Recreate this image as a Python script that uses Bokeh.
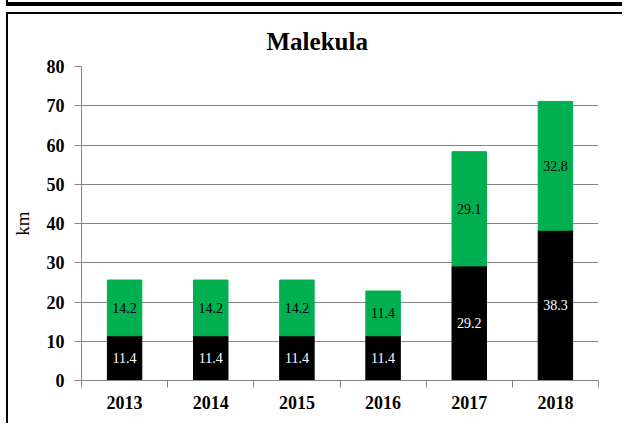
from bokeh.plotting import figure
from bokeh.models import ColumnDataSource, FixedTicker, Range1d
from bokeh.core.properties import value
from bokeh.embed import file_html
from bokeh.resources import INLINE

years = ["2013", "2014", "2015", "2016", "2017", "2018"]
black_vals = [11.4, 11.4, 11.4, 11.4, 29.2, 38.3]
green_vals = [14.2, 14.2, 14.2, 11.4, 29.1, 32.8]
y_ticks = [0, 10, 20, 30, 40, 50, 60, 70, 80]

GREEN = "#00B050"
GRAY = "#868686"
FONT = "Liberation Serif"

xs = [i + 0.5 for i in range(len(years))]
stack_tops = [b + g for b, g in zip(black_vals, green_vals)]
src = ColumnDataSource(dict(
    x=xs,
    black=black_vals,
    top=stack_tops,
    black_mid=[b / 2 for b in black_vals],
    green_mid=[b + g / 2 for b, g in zip(black_vals, green_vals)],
    black_txt=["%.1f" % v for v in black_vals],
    green_txt=["%.1f" % v for v in green_vals],
))

p = figure(width=616, height=411, x_range=Range1d(0, len(years)), y_range=Range1d(0, 80),
           output_backend="svg", toolbar_location=None,
           min_border_left=72, min_border_right=26, min_border_top=52, min_border_bottom=45,
           title="Malekula")
p.styles = {"margin-top": "12px", "margin-left": "6px",
            "border-top": "2px solid black", "border-left": "2px solid black",
            "box-shadow": "2px -421px 0 0 white, 0 -6px 0 0 white, 0 -12px 0 0 black"}
p.outline_line_color = None
p.background_fill_color = "white"
p.border_fill_color = "white"

p.title.align = "left"
p.title.offset = 185
p.title.text_color = "black"
p.title.text_font = FONT
p.title.text_font_style = "bold"
p.title.text_font_size = "25px"
p.title.standoff = 23

p.vbar(x="x", bottom=0, top="black", width=0.4, color="black", source=src)
p.vbar(x="x", bottom="black", top="top", width=0.4, color=GREEN, source=src)

p.text(x="x", y="black_mid", text="black_txt", source=src, text_color="white",
       text_font=value(FONT), text_font_size="14px", text_align="center", text_baseline="middle")
p.text(x="x", y="green_mid", text="green_txt", source=src, text_color="black",
       text_font=value(FONT), text_font_size="14px", text_align="center", text_baseline="middle")

# grid
p.xgrid.visible = False
p.ygrid.ticker = FixedTicker(ticks=y_ticks)
p.ygrid.grid_line_color = GRAY
p.ygrid.grid_line_width = 1

# y axis
ya = p.yaxis[0]
ya.ticker = FixedTicker(ticks=y_ticks)
ya.axis_line_color = GRAY
ya.major_tick_line_color = GRAY
ya.major_tick_out = 7
ya.major_tick_in = 0
ya.minor_tick_line_color = None
ya.major_label_text_color = "black"
ya.major_label_text_font = FONT
ya.major_label_text_font_style = "bold"
ya.major_label_text_font_size = "18px"
ya.major_label_standoff = 10
ya.axis_label = "km"
ya.axis_label_text_color = "black"
ya.axis_label_text_font = FONT
ya.axis_label_text_font_style = "normal"
ya.axis_label_text_font_size = "19px"
ya.axis_label_standoff = 11

# x axis: labels at category centers, ticks at boundaries
xa = p.xaxis[0]
xa.ticker = FixedTicker(ticks=xs, minor_ticks=list(range(len(years) + 1)))
xa.major_label_overrides = {x: y for x, y in zip(xs, years)}
xa.axis_line_color = GRAY
xa.major_tick_line_color = None
xa.minor_tick_line_color = GRAY
xa.minor_tick_out = 7
xa.minor_tick_in = 0
xa.major_label_text_color = "black"
xa.major_label_text_font = FONT
xa.major_label_text_font_style = "bold"
xa.major_label_text_font_size = "18px"
xa.major_label_standoff = 8

open("out.html", "w").write(file_html(p, INLINE))
